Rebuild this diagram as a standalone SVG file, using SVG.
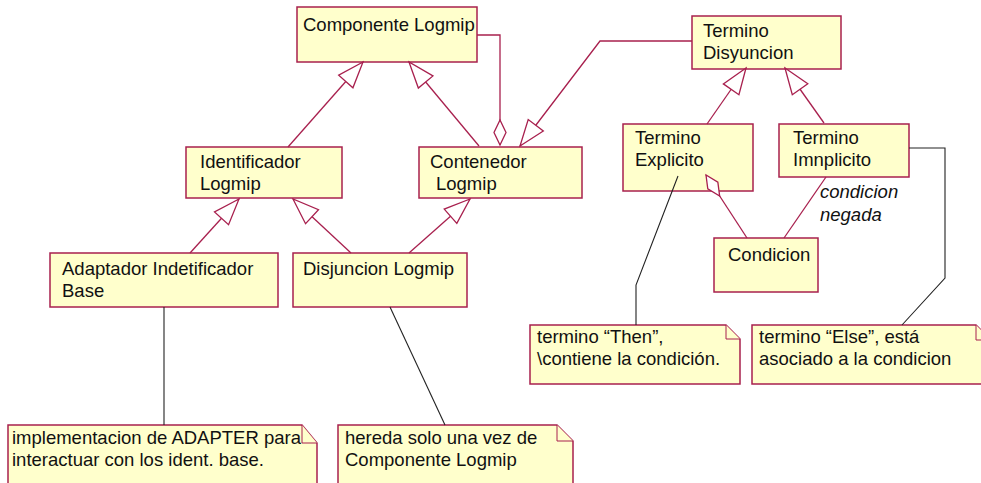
<svg xmlns="http://www.w3.org/2000/svg" width="981" height="483" viewBox="0 0 981 483">
<style>
.box{fill:#ffffcc;stroke:#a8204e;stroke-width:1.5}
.note{fill:#ffffcc;stroke:#a8204e;stroke-width:1.5}
.fold{fill:#ffffcc;stroke:#a8204e;stroke-width:1}
.t{font-family:"Liberation Sans",Arial,sans-serif;font-size:18.5px;fill:#111}
.it{font-style:italic}
.rel{fill:none;stroke:#a8204e;stroke-width:1.3}
.anc{fill:none;stroke:#222;stroke-width:1.1}
</style>
<defs>
<marker id="tri" viewBox="-28 -11 30 22" refX="0" refY="0" markerWidth="30" markerHeight="22" markerUnits="userSpaceOnUse" orient="auto">
<path d="M0,0 L-26,-9.5 L-26,9.5 Z" fill="#ffffff" stroke="#a8204e" stroke-width="1.3"/>
</marker>
<marker id="dia" viewBox="-27 -8 29 16" refX="0" refY="0" markerWidth="29" markerHeight="16" markerUnits="userSpaceOnUse" orient="auto">
<path d="M0,0 L-12.5,-6 L-25,0 L-12.5,6 Z" fill="#ffffff" stroke="#a8204e" stroke-width="1.3"/>
</marker>
</defs>
<rect width="981" height="483" fill="#ffffff"/>
<g id="componente-logmip">
<rect class="box" x="297" y="7" width="180" height="55"/>
<text class="t" x="303" y="31">Componente Logmip</text>
</g>
<g id="identificador-logmip">
<rect class="box" x="186" y="147" width="156" height="51"/>
<text class="t" x="200" y="168">Identificador</text>
<text class="t" x="200" y="190">Logmip</text>
</g>
<g id="contenedor-logmip">
<rect class="box" x="419" y="147" width="163" height="51"/>
<text class="t" x="430" y="168">Contenedor</text>
<text class="t" x="436" y="190">Logmip</text>
</g>
<g id="adaptador">
<rect class="box" x="50" y="253" width="228" height="54"/>
<text class="t" x="62" y="275">Adaptador Indetificador</text>
<text class="t" x="62" y="297">Base</text>
</g>
<g id="disjuncion-logmip">
<rect class="box" x="293" y="253" width="174" height="54"/>
<text class="t" x="303" y="275">Disjuncion Logmip</text>
</g>
<g id="termino-disyuncion">
<rect class="box" x="692" y="16" width="149" height="53"/>
<text class="t" x="703" y="37">Termino</text>
<text class="t" x="703" y="59">Disyuncion</text>
</g>
<g id="termino-explicito">
<rect class="box" x="623" y="124" width="130" height="67"/>
<text class="t" x="635" y="144">Termino</text>
<text class="t" x="635" y="166">Explicito</text>
</g>
<g id="termino-imnplicito">
<rect class="box" x="779" y="124" width="130" height="53"/>
<text class="t" x="793" y="144">Termino</text>
<text class="t" x="793" y="166">Imnplicito</text>
</g>
<g id="condicion">
<rect class="box" x="714" y="238" width="104" height="54"/>
<text class="t" x="728" y="261">Condicion</text>
</g>
<g id="label-condicion-negada">
<text class="t it" x="820" y="198">condicion</text>
<text class="t it" x="820" y="221">negada</text>
</g>
<g id="note-then">
<path class="note" d="M530,325 H726 L740,339 V384 H530 Z"/>
<path class="fold" d="M726,325 V339 H740"/>
<text class="t" x="537" y="343">termino “Then”,</text>
<text class="t" x="537" y="365">\contiene la condición.</text>
</g>
<g id="note-else">
<path class="note" d="M752,325 H976 L991,340 V384 H752 Z"/>
<path class="fold" d="M976,325 V340 H991"/>
<text class="t" x="759" y="343">termino “Else”, está</text>
<text class="t" x="759" y="365">asociado a la condicion</text>
</g>
<g id="note-adapter">
<path class="note" d="M8,425 H302 L317,443 V492 H8 Z"/>
<path class="fold" d="M302,425 V443 H317"/>
<text class="t" x="12" y="444">implementacion de ADAPTER para</text>
<text class="t" x="12" y="466">interactuar con los ident. base.</text>
</g>
<g id="note-hereda">
<path class="note" d="M338,425 H557 L573,441 V492 H338 Z"/>
<path class="fold" d="M557,425 V441 H573"/>
<text class="t" x="345" y="444">hereda solo una vez de</text>
<text class="t" x="345" y="466">Componente Logmip</text>
</g>
<g id="connectors">
<line class="rel" x1="288" y1="147" x2="363" y2="62" marker-end="url(#tri)"/>
<line class="rel" x1="479" y1="146" x2="409" y2="62" marker-end="url(#tri)"/>
<polyline class="rel" points="477,35 500,35 500,145" marker-end="url(#dia)"/>
<polyline class="rel" points="692,41 600,41 520,146" marker-end="url(#tri)"/>
<line class="rel" x1="707" y1="124" x2="746" y2="68" marker-end="url(#tri)"/>
<line class="rel" x1="824" y1="123" x2="785" y2="68" marker-end="url(#tri)"/>
<line class="rel" x1="190" y1="253" x2="239" y2="199" marker-end="url(#tri)"/>
<line class="rel" x1="351" y1="253" x2="293" y2="199" marker-end="url(#tri)"/>
<line class="rel" x1="409" y1="253" x2="470" y2="199" marker-end="url(#tri)"/>
<line class="rel" x1="747" y1="238" x2="706" y2="175" marker-end="url(#dia)"/>
<line class="rel" x1="826" y1="177" x2="784" y2="238"/>
<polyline class="anc" points="678,176 636,285 636,325"/>
<polyline class="anc" points="909,148 945,148 945,278 902,325"/>
<line class="anc" x1="164" y1="307" x2="164" y2="425"/>
<line class="anc" x1="390" y1="307" x2="445" y2="425"/>
</g>
</svg>
